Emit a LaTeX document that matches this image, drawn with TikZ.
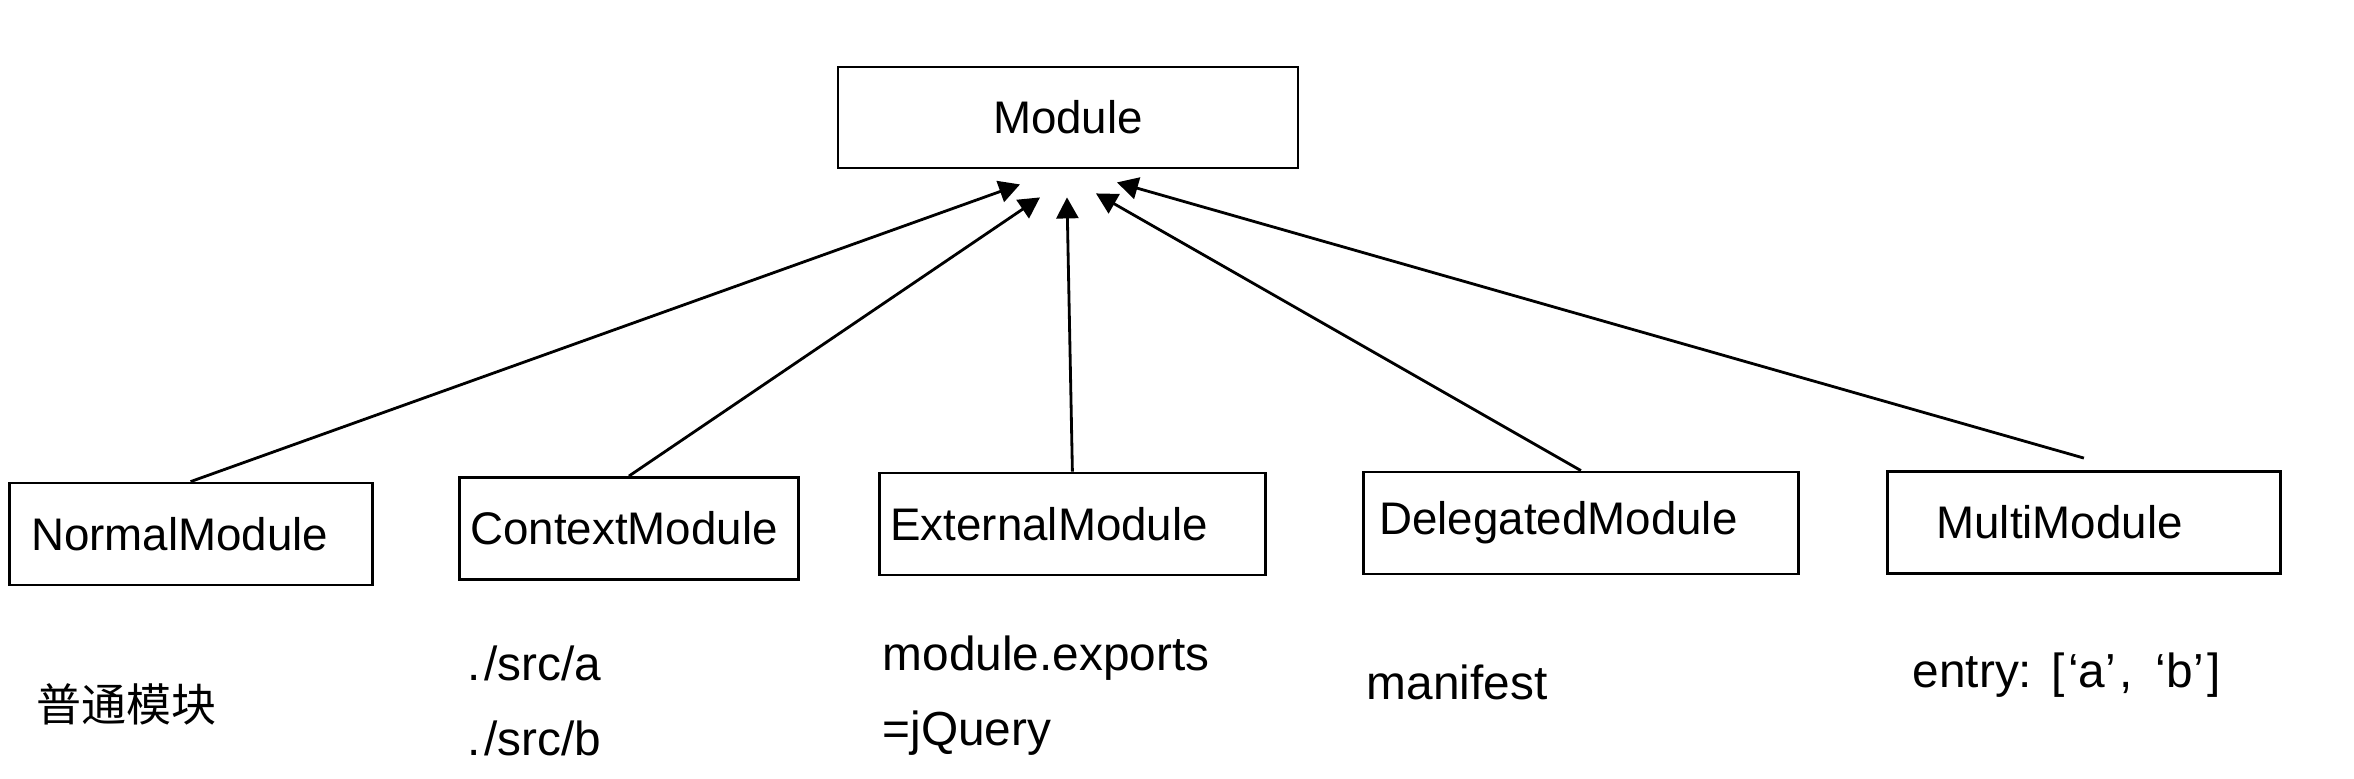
\documentclass[tikz,border=0pt]{standalone}
\usepackage{fontspec}
\setmainfont{Liberation Sans}
\newfontfamily\cjk{Noto Sans CJK SC}
\usetikzlibrary{arrows.meta}

\begin{document}
\begin{tikzpicture}[
  modbox/.style={draw, line width=0.8pt, anchor=west, align=left, minimum height=1.02cm, inner ysep=0pt, font=\fontsize{13}{16}\selectfont},
  arr/.style={line width=0.8pt, -{Triangle[length=2.1mm, width=2.2mm]}},
  note/.style={anchor=west, align=left, inner sep=0pt, font=\fontsize{13.6}{21.3}\selectfont}]
  \useasboundingbox (0,0) rectangle (23.54,7.78);
  % base class
  \node[draw, line width=0.8pt, minimum width=4.6cm, minimum height=1.01cm, font=\fontsize{13}{16}\selectfont] (module) at (10.68,6.605) {Module};
  % subclasses
  \node[modbox, inner xsep=0.22cm, text width=3.19cm] (normal) at (0.077,2.44) {NormalModule};
  \node[modbox, inner xsep=0.11cm, text width=3.17cm] (context) at (4.58,2.495) {ContextModule};
  \node[modbox, inner xsep=0.11cm, text width=3.64cm] (external) at (8.78,2.54) {ExternalModule};
  \node[modbox, inner xsep=0.16cm, text width=4.03cm] (delegated) at (13.62,2.55) {DelegatedModule};
  \node[modbox, inner xsep=0.49cm, text width=2.95cm] (multi) at (18.86,2.555) {MultiModule};
  % arrow tips below Module
  \coordinate (tipN) at ([xshift=-0.48cm, yshift=-0.15cm]module.south);
  \coordinate (tipC) at ([xshift=-0.28cm, yshift=-0.28cm]module.south);
  \coordinate (tipE) at ([xshift=-0.01cm, yshift=-0.28cm]module.south);
  \coordinate (tipD) at ([xshift=0.28cm, yshift=-0.24cm]module.south);
  \coordinate (tipM) at ([xshift=0.49cm, yshift=-0.13cm]module.south);
  \coordinate (multitop) at ([yshift=0.12cm]multi.north);
  \draw[arr] (normal.north) -- (tipN);
  \draw[arr] (context.north) -- (tipC);
  \draw[arr] (external.north) -- (tipE);
  \draw[arr] (delegated.north) -- (tipD);
  \draw[arr] (multitop) -- (tipM);
  % notes under the boxes
  \node[note, font=\fontsize{12.8}{16}\selectfont] (normalnote) at (0.36,0.74) {\cjk 普通模块};
  \node[note] (contextnote) at (4.67,0.77) {.\kern1pt/src/a\\.\kern1pt/src/b};
  \node[note] (externalnote) at (8.82,0.825) {module.exports\\=jQuery};
  \node[note] (delegatednote) at (13.66,0.96) {manifest};
  \node[note] (multinote) at (19.12,1.03) {entry:\hspace{5.5pt}[\kern1pt‘a’\kern1pt,\hspace{6.5pt}‘b’\kern1pt]};
\end{tikzpicture}
\end{document}
